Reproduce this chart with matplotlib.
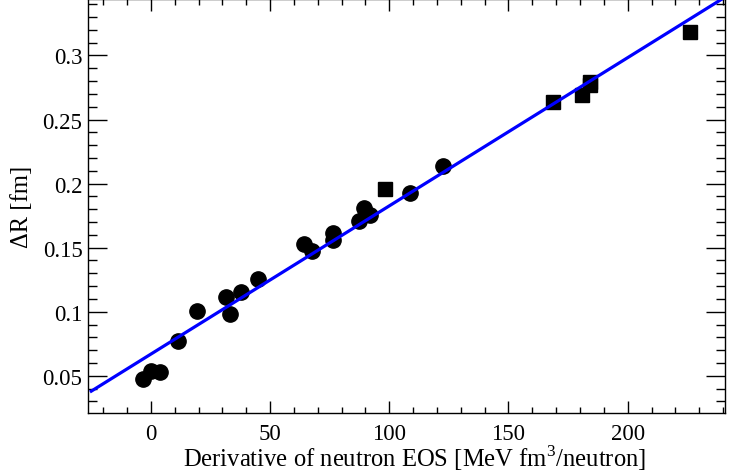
import matplotlib
matplotlib.use("Agg")
import matplotlib.pyplot as plt
from matplotlib.ticker import MultipleLocator, FormatStrFormatter
import numpy as np

plt.rcParams['font.family'] = ['Liberation Serif', 'DejaVu Serif']
plt.rcParams['mathtext.fontset'] = 'custom'
plt.rcParams['mathtext.rm'] = 'Liberation Serif'

# circles (one set of models)
circ_x = [-3.5, -0.1, 3.8, 11.5, 19.2, 31.4, 33.3, 37.7, 45.0,
          64.2, 67.6, 76.4, 76.4, 87.3, 89.3, 92.1, 108.6, 122.6]
circ_y = [0.0478, 0.0538, 0.0527, 0.0769, 0.1003, 0.1112, 0.0982, 0.1154, 0.1258,
          0.1526, 0.1471, 0.1617, 0.1560, 0.1705, 0.1809, 0.1752, 0.1929, 0.2137]

# squares (other set)
sq_x = [98.4, 168.7, 181.0, 184.2, 184.4, 226.3]
sq_y = [0.1960, 0.2639, 0.2688, 0.2790, 0.2768, 0.3187]

# linear fit drawn across the range
fit_slope = 0.001157
fit_icpt = 0.0669
fit_range = [-25.0, 242.0]

fig = plt.figure(figsize=(7.39, 4.77), dpi=100)
ax = fig.add_axes([0.119, 0.132, 0.862, 0.867])

fx = np.array(fit_range)
ax.plot(fx, fit_slope * fx + fit_icpt, color='#0000ff', lw=2.3, zorder=3)
ax.plot(circ_x, circ_y, 'o', color='black', ms=11, zorder=2)
ax.plot(sq_x, sq_y, 's', color='black', ms=10.5, zorder=2)

ax.set_xlim(-26.4, 240.8)
ax.set_ylim(0.0209, 0.3437)

ax.xaxis.set_major_locator(MultipleLocator(50))
ax.xaxis.set_minor_locator(MultipleLocator(10))
ax.yaxis.set_major_locator(MultipleLocator(0.05))
ax.yaxis.set_minor_locator(MultipleLocator(0.01))
ax.yaxis.set_major_formatter(FormatStrFormatter('%g'))

ax.tick_params(axis='both', which='both', direction='in', top=True, right=True,
               width=1, labelsize=16.5, colors='black')
ax.tick_params(axis='x', which='major', length=8.6, pad=7)
ax.tick_params(axis='x', which='minor', length=4.3)
ax.tick_params(axis='y', which='major', length=13.7, pad=4)
ax.tick_params(axis='y', which='minor', length=6.8)
ax.tick_params(axis='y', which='both', labelright=False)
for s in ax.spines.values():
    s.set_linewidth(1)

ax.set_xlabel('Derivative of neutron EOS [MeV fm$^{\\mathrm{3}}$/neutron]', fontsize=17.7)
ax.xaxis.set_label_coords(0.513, -0.07)
ax.set_ylabel('\u0394R [fm]', fontsize=17.7)
ax.yaxis.set_label_coords(-0.087, 0.5)

fig.savefig('out.png', dpi=100)
